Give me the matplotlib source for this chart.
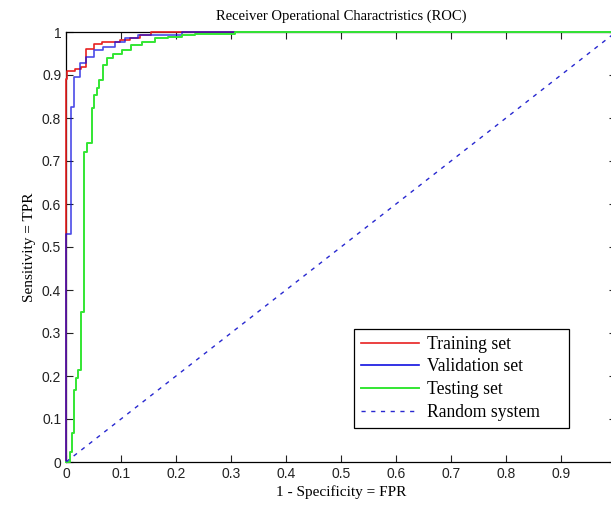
import numpy as np
import matplotlib
matplotlib.use("Agg")
import matplotlib.pyplot as plt

# ROC corner points (fpr, tpr)
train_fpr = [0, 0, 0.002, 0.016, 0.028, 0.036, 0.05, 0.065, 0.098, 0.116, 0.135, 0.155, 1.0]
train_tpr = [0, 0.89, 0.909, 0.913, 0.918, 0.961, 0.973, 0.976, 0.981, 0.986, 0.994, 1.0, 1.0]

val_fpr = [0, 0, 0.009, 0.014, 0.025, 0.037, 0.05, 0.067, 0.089, 0.107, 0.131, 0.21, 1.0]
val_tpr = [0, 0.53, 0.826, 0.896, 0.928, 0.943, 0.958, 0.966, 0.977, 0.985, 0.993, 1.0, 1.0]

test_fpr = [0, 0.007, 0.01, 0.014, 0.019, 0.022, 0.028, 0.033, 0.0376, 0.047, 0.0515,
            0.056, 0.06, 0.068, 0.074, 0.086, 0.101, 0.119, 0.138, 0.162, 0.186, 0.21,
            0.235, 0.307, 1.0]
test_tpr = [0, 0.024, 0.068, 0.167, 0.195, 0.214, 0.35, 0.72, 0.742, 0.823, 0.853,
            0.869, 0.888, 0.923, 0.939, 0.948, 0.958, 0.97, 0.977, 0.985, 0.989, 0.993,
            0.995, 1.0, 1.0]

rand_x = [0, 1]
rand_y = [0, 1]

ticks = [0, 0.1, 0.2, 0.3, 0.4, 0.5, 0.6, 0.7, 0.8, 0.9, 1]
y_labels = ["0", "0.1", "0.2", "0.3", "0.4", "0.5", "0.6", "0.7", "0.8", "0.9", "1"]
# the "1" on the x axis falls just outside the cropped picture
x_labels = ["0", "0.1", "0.2", "0.3", "0.4", "0.5", "0.6", "0.7", "0.8", "0.9", ""]

serif = ["Liberation Serif", "DejaVu Serif"]
sans = ["Liberation Sans", "DejaVu Sans"]

fig = plt.figure(figsize=(6.11, 5.12), dpi=100)
ax = fig.add_axes([66 / 611, 50 / 512, 550 / 611, 430 / 512])

ax.plot(train_fpr, train_tpr, drawstyle="steps-post", color="#e82020", lw=1.2,
        label="Training set", zorder=3, clip_on=False)
ax.plot(val_fpr, val_tpr, drawstyle="steps-post", color="#1010e0", lw=1.2, alpha=0.75,
        label="Validation set", zorder=3, clip_on=False)
ax.plot(test_fpr, test_tpr, drawstyle="steps-post", color="#33e633", lw=1.4,
        label="Testing set", zorder=3, clip_on=False)
# trailing spaces give the extra room MATLAB leaves on the right of the legend
ax.plot(rand_x, rand_y, "--", color="#2828d0", lw=1.0, dashes=(3, 4),
        label="Random system     ", zorder=3)

ax.set_xlim(0, 1)
ax.set_ylim(0, 1)
ax.set_xticks(ticks)
ax.set_yticks(ticks)
ax.set_xticklabels(x_labels, family=sans, fontsize=10)
ax.set_yticklabels(y_labels, family=sans, fontsize=10)
ax.tick_params(direction="in", length=5, width=0.8, top=True, right=True, colors="#222222")
for s in ax.spines.values():
    s.set_linewidth(0.9)

ax.set_title("Receiver Operational Charactristics (ROC)", family=serif, fontsize=10.5, pad=9)
ax.set_xlabel("1 - Specificity = FPR", family=serif, fontsize=11, labelpad=3)
ax.set_ylabel("Sensitivity = TPR", family=serif, fontsize=11, labelpad=4)

leg = ax.legend(loc="upper left", bbox_to_anchor=(0.523, 0.31), prop={"family": serif, "size": 12.7},
                frameon=True, fancybox=False, edgecolor="black", framealpha=1,
                handlelength=3.3, handletextpad=0.45, labelspacing=0.32, borderpad=0.4,
                borderaxespad=0)
leg.get_frame().set_linewidth(0.9)
for h in leg.get_lines():
    h.set_alpha(1)

fig.savefig("out.png", dpi=100)
